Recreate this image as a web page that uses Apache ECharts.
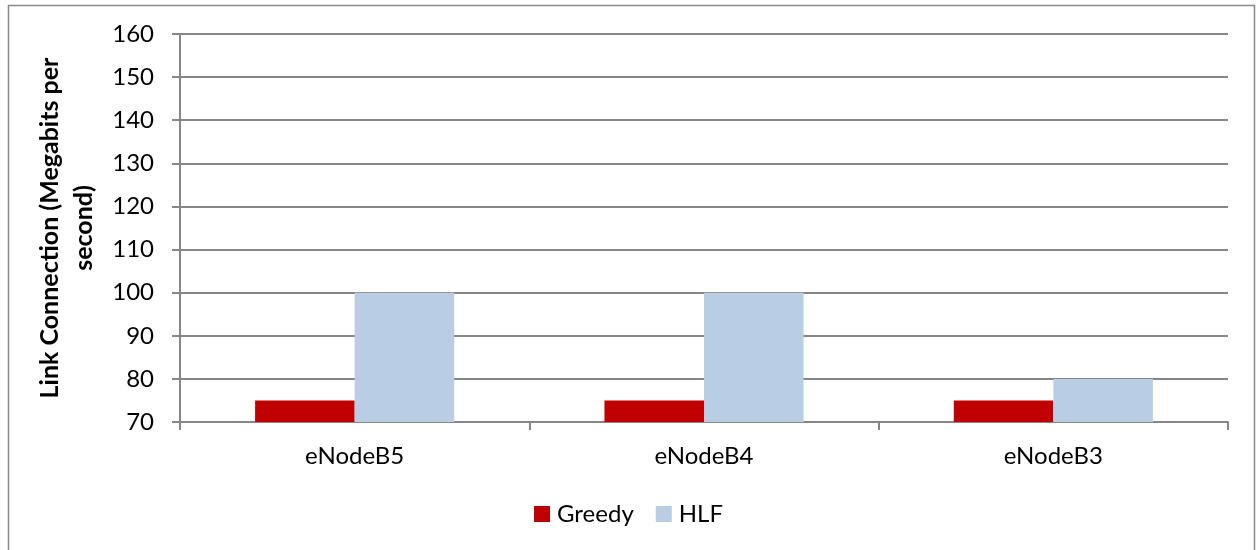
<!DOCTYPE html>
<html><head><meta charset="utf-8">
<script src="https://cdn.jsdelivr.net/npm/echarts@6/dist/echarts.min.js"></script>
<style>html,body{margin:0;padding:0;background:#fff}#c{width:1257px;height:550px}</style>
</head><body><div id="c"></div>
<script>
const categories = ['eNodeB5', 'eNodeB4', 'eNodeB3'];
const greedy = [75, 75, 75];
const hlf = [100, 100, 80];
const yTitle = 'Link Connection (Megabits per\nsecond)';
const font = 'Lato, "Open Sans", sans-serif';
const chart = echarts.init(document.getElementById('c'));
chart.setOption({
  animation: false,
  backgroundColor: '#fff',
  graphic: [{type:'rect', shape:{x:8.5,y:5.5,width:1246,height:560}, style:{fill:'none', stroke:'#898989', lineWidth:1.5}, silent:true}],
  grid: {left:180, right:29, top:34, bottom:128},
  legend: {
    top: 497, left: 'center', itemWidth: 16, itemHeight: 16, itemGap: 22,
    textStyle: {fontFamily: font, fontSize: 24, color:'#000', padding:[0,0,0,2]},
    data: [{name:'Greedy', icon:'rect'}, {name:'HLF', icon:'rect'}]
  },
  xAxis: {
    type: 'category', data: categories,
    axisLine: {lineStyle:{color:'#868686', width:2}},
    axisTick: {show:true, length:8, lineStyle:{color:'#868686', width:2}},
    axisLabel: {fontFamily: font, fontSize: 24, color:'#000', margin: 22}
  },
  yAxis: {
    type: 'value', min: 70, max: 160, interval: 10,
    name: yTitle, nameLocation: 'middle', nameRotate: 90, nameGap: 78,
    nameTextStyle: {fontFamily: font, fontSize: 25, fontWeight: 'bold', color:'#000', lineHeight: 34},
    axisLine: {show:true, lineStyle:{color:'#868686', width:2}},
    axisTick: {show:true, length:8, lineStyle:{color:'#868686', width:2}},
    axisLabel: {fontFamily: font, fontSize: 24, color:'#000', margin: 26},
    splitLine: {lineStyle:{color:'#868686', width:2}}
  },
  series: [
    {name:'Greedy', type:'bar', data: greedy, itemStyle:{color:'#C00000'}, barGap:'0%', barCategoryGap:'43%'},
    {name:'HLF', type:'bar', data: hlf, itemStyle:{color:'#B9CDE5'}, barGap:'0%', barCategoryGap:'43%'}
  ]
});
</script></body></html>
